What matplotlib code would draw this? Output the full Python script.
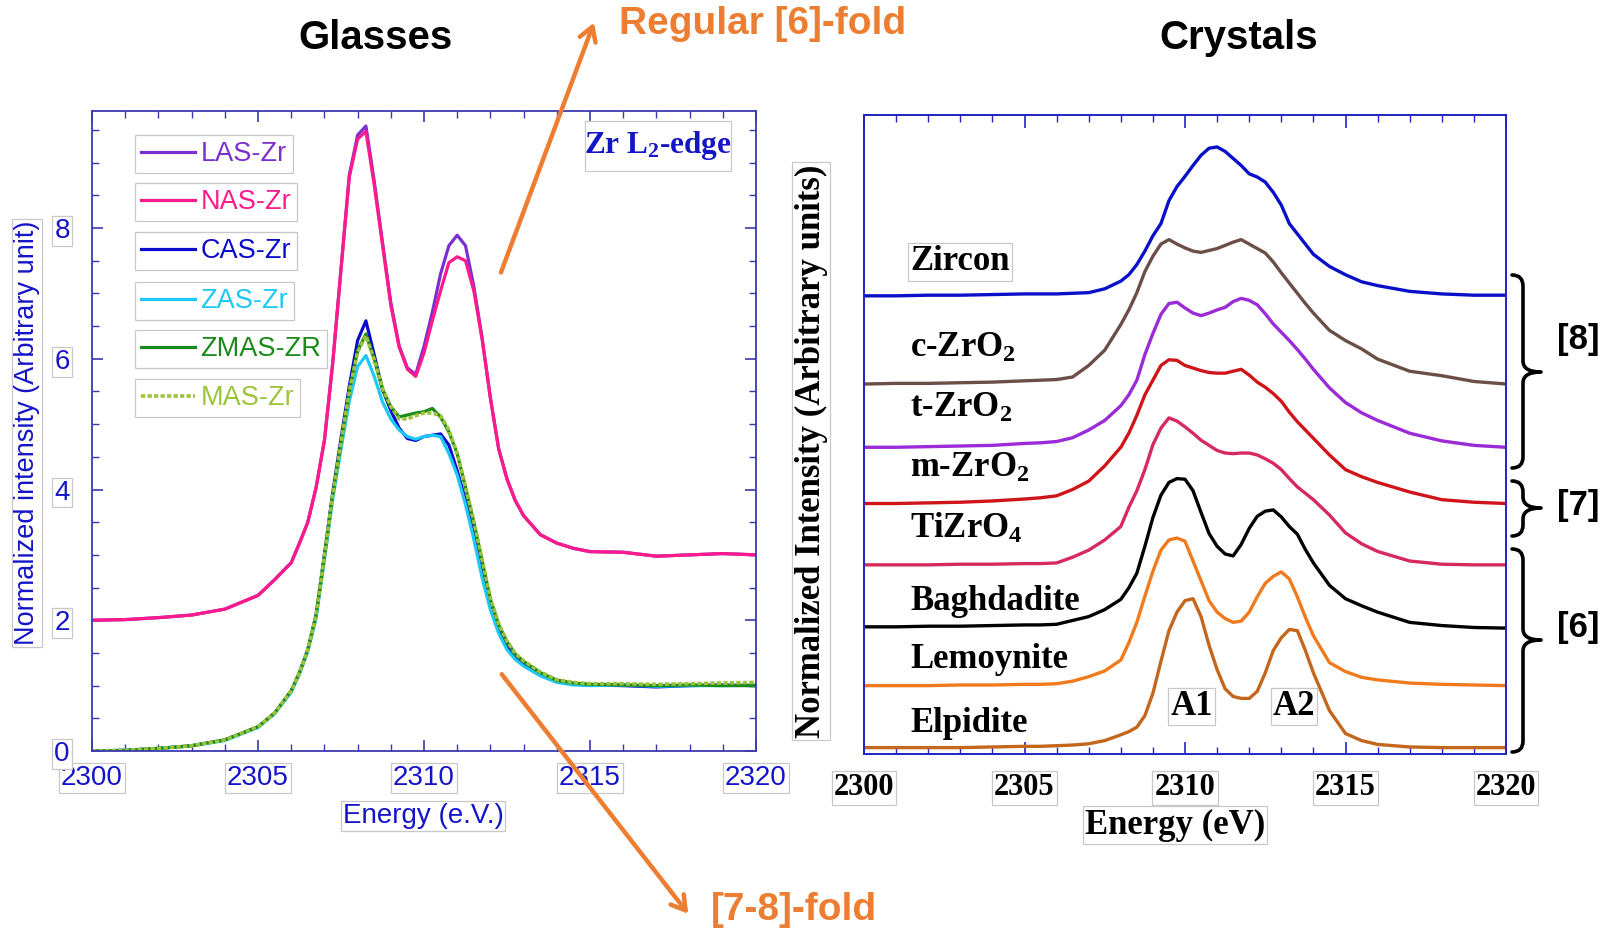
import matplotlib
matplotlib.use('Agg')
import matplotlib.pyplot as plt
from matplotlib.path import Path
from matplotlib.patches import PathPatch, FancyArrowPatch, Rectangle
from matplotlib.legend import Legend
from matplotlib.ticker import MultipleLocator

# ---------------- data: glasses (left panel) ----------------
energy_glass = [2300, 2301, 2302, 2303, 2304, 2305, 2305.5, 2306, 2306.25, 2306.5, 2306.75,
                2307, 2307.25, 2307.5, 2307.75, 2308, 2308.25, 2308.5, 2308.75, 2309, 2309.25,
                2309.5, 2309.75, 2310, 2310.25, 2310.5, 2310.75, 2311, 2311.25, 2311.5, 2311.75,
                2312, 2312.25, 2312.5, 2312.75, 2313, 2313.5, 2314, 2314.5, 2315, 2316, 2317,
                2318, 2319, 2320]
las_zr = [2.00, 2.01, 2.04, 2.08, 2.17, 2.38, 2.62, 2.88, 3.18, 3.50, 4.03, 4.75, 5.93, 7.37,
          8.81, 9.42, 9.56, 8.72, 7.78, 6.86, 6.20, 5.86, 5.76, 6.19, 6.71, 7.30, 7.73, 7.89,
          7.73, 7.11, 6.32, 5.40, 4.62, 4.16, 3.83, 3.60, 3.31, 3.18, 3.10, 3.05, 3.04, 2.98,
          3.00, 3.02, 3.00]
nas_zr = [2.00, 2.01, 2.04, 2.08, 2.17, 2.38, 2.62, 2.88, 3.18, 3.50, 4.03, 4.75, 5.93, 7.37,
          8.78, 9.36, 9.48, 8.66, 7.74, 6.82, 6.18, 5.84, 5.73, 6.09, 6.58, 7.04, 7.47, 7.56,
          7.50, 7.04, 6.30, 5.40, 4.62, 4.16, 3.83, 3.60, 3.31, 3.18, 3.10, 3.05, 3.04, 2.98,
          3.00, 3.02, 3.00]
cas_zr = [0.00, 0.01, 0.04, 0.08, 0.17, 0.37, 0.58, 0.92, 1.20, 1.55, 2.08, 3.00, 3.95, 4.78,
          5.58, 6.28, 6.58, 6.06, 5.53, 5.21, 4.94, 4.78, 4.75, 4.81, 4.83, 4.85, 4.68, 4.29,
          3.83, 3.31, 2.78, 2.26, 1.87, 1.60, 1.44, 1.34, 1.18, 1.08, 1.03, 1.01, 1.00, 0.98,
          1.00, 1.01, 1.00]
zas_zr = [0.00, 0.01, 0.04, 0.08, 0.16, 0.36, 0.57, 0.90, 1.18, 1.52, 2.03, 2.92, 3.85, 4.62,
          5.35, 5.88, 6.05, 5.73, 5.34, 5.08, 4.91, 4.81, 4.77, 4.81, 4.83, 4.81, 4.55, 4.22,
          3.77, 3.24, 2.65, 2.16, 1.80, 1.55, 1.40, 1.30, 1.15, 1.05, 1.01, 1.00, 1.01, 0.99,
          1.00, 1.00, 1.01]
zmas_zr = [0.00, 0.01, 0.04, 0.08, 0.17, 0.37, 0.58, 0.92, 1.20, 1.55, 2.08, 2.98, 3.92, 4.72,
           5.50, 6.12, 6.38, 5.99, 5.53, 5.27, 5.11, 5.14, 5.17, 5.19, 5.24, 5.11, 4.88, 4.55,
           4.03, 3.50, 2.91, 2.32, 1.93, 1.67, 1.48, 1.37, 1.20, 1.08, 1.04, 1.02, 1.01, 1.00,
           1.01, 1.00, 1.00]
mas_zr = [0.00, 0.01, 0.04, 0.08, 0.17, 0.37, 0.58, 0.92, 1.20, 1.55, 2.08, 2.98, 3.92, 4.72,
          5.50, 6.10, 6.35, 5.99, 5.55, 5.27, 5.08, 5.08, 5.13, 5.17, 5.17, 5.13, 4.91, 4.55,
          4.05, 3.52, 2.93, 2.34, 1.95, 1.68, 1.49, 1.38, 1.21, 1.09, 1.05, 1.03, 1.03, 1.02,
          1.03, 1.04, 1.05]
glass_names = ['LAS-Zr', 'NAS-Zr', 'CAS-Zr', 'ZAS-Zr', 'ZMAS-ZR', 'MAS-Zr']
glass_series = [las_zr, nas_zr, cas_zr, zas_zr, zmas_zr, mas_zr]
glass_colors = ['#7B2FD0', '#FF1A8C', '#0A0ACD', '#1EC8F5', '#1A8A1A', '#9CC43A']
glass_styles = ['-', '-', '-', '-', '-', (0, (1.2, 0.6))]

# ---------------- data: crystals (right panel) ----------------
energy_cryst = [2300, 2301, 2302, 2303, 2304, 2305, 2305.5, 2306, 2306.5, 2307, 2307.5, 2308,
                2308.25, 2308.5, 2308.75, 2309, 2309.25, 2309.5, 2309.75, 2310, 2310.25, 2310.5,
                2310.75, 2311, 2311.25, 2311.5, 2311.75, 2312, 2312.25, 2312.5, 2312.75, 2313,
                2313.25, 2313.5, 2313.75, 2314, 2314.5, 2315, 2315.5, 2316, 2317, 2318, 2319,
                2320]
zircon = [7.17, 7.17, 7.18, 7.18, 7.19, 7.20, 7.20, 7.20, 7.21, 7.22, 7.28, 7.40, 7.50, 7.66,
          7.87, 8.11, 8.30, 8.66, 8.88, 9.04, 9.21, 9.37, 9.48, 9.50, 9.43, 9.32, 9.21, 9.08,
          9.03, 8.95, 8.79, 8.59, 8.30, 8.14, 7.98, 7.82, 7.63, 7.50, 7.39, 7.33, 7.24, 7.20,
          7.18, 7.18]
c_zro2 = [5.79, 5.80, 5.80, 5.81, 5.82, 5.84, 5.85, 5.86, 5.90, 6.08, 6.32, 6.72, 6.95, 7.22,
          7.55, 7.79, 7.98, 8.05, 7.98, 7.92, 7.87, 7.85, 7.88, 7.91, 7.96, 8.01, 8.05, 7.98,
          7.91, 7.84, 7.70, 7.53, 7.37, 7.21, 7.05, 6.90, 6.63, 6.47, 6.34, 6.18, 5.99, 5.92,
          5.83, 5.79]
t_zro2 = [4.80, 4.80, 4.81, 4.82, 4.83, 4.86, 4.87, 4.89, 4.95, 5.07, 5.22, 5.45, 5.62, 5.85,
          6.25, 6.58, 6.88, 7.05, 7.07, 6.98, 6.90, 6.86, 6.90, 6.95, 6.99, 7.08, 7.13, 7.10,
          7.03, 6.89, 6.73, 6.60, 6.47, 6.33, 6.18, 6.02, 5.73, 5.50, 5.34, 5.22, 5.02, 4.90,
          4.83, 4.80]
m_zro2 = [3.92, 3.92, 3.93, 3.94, 3.96, 3.99, 4.01, 4.04, 4.14, 4.27, 4.51, 4.80, 5.02, 5.30,
          5.62, 5.85, 6.08, 6.17, 6.16, 6.08, 6.04, 6.00, 5.97, 5.96, 5.96, 5.99, 6.02, 5.93,
          5.82, 5.74, 5.64, 5.52, 5.35, 5.20, 5.07, 4.94, 4.68, 4.45, 4.34, 4.25, 4.10, 3.98,
          3.94, 3.92]
tizro4 = [2.96, 2.96, 2.96, 2.97, 2.97, 2.98, 2.98, 2.99, 3.08, 3.19, 3.35, 3.56, 3.86, 4.12,
          4.45, 4.84, 5.10, 5.26, 5.21, 5.12, 5.02, 4.91, 4.83, 4.75, 4.71, 4.70, 4.71, 4.71,
          4.68, 4.62, 4.55, 4.45, 4.31, 4.18, 4.08, 3.98, 3.74, 3.46, 3.29, 3.17, 3.02, 2.97,
          2.96, 2.96]
baghdadite = [1.99, 1.99, 2.00, 2.00, 2.01, 2.02, 2.02, 2.03, 2.09, 2.15, 2.26, 2.42, 2.60,
              2.83, 3.25, 3.70, 4.05, 4.25, 4.31, 4.30, 4.12, 3.78, 3.45, 3.25, 3.13, 3.10,
              3.28, 3.53, 3.72, 3.80, 3.82, 3.71, 3.56, 3.44, 3.20, 2.99, 2.64, 2.43, 2.32,
              2.22, 2.06, 2.01, 1.98, 1.97]
lemoynite = [1.07, 1.07, 1.07, 1.08, 1.08, 1.09, 1.09, 1.10, 1.14, 1.21, 1.30, 1.47, 1.74,
             2.06, 2.47, 2.86, 3.19, 3.35, 3.38, 3.33, 3.02, 2.71, 2.40, 2.22, 2.12, 2.06,
             2.08, 2.22, 2.46, 2.67, 2.78, 2.85, 2.74, 2.46, 2.14, 1.85, 1.43, 1.29, 1.20,
             1.16, 1.11, 1.09, 1.08, 1.07]
elpidite = [0.10, 0.10, 0.10, 0.10, 0.11, 0.12, 0.12, 0.13, 0.14, 0.16, 0.21, 0.30, 0.35,
            0.42, 0.60, 0.95, 1.45, 1.93, 2.22, 2.40, 2.43, 2.15, 1.70, 1.32, 1.02, 0.90,
            0.87, 0.87, 0.98, 1.27, 1.62, 1.82, 1.95, 1.93, 1.62, 1.27, 0.68, 0.32, 0.21,
            0.15, 0.11, 0.10, 0.10, 0.10]
cryst_series = [zircon, c_zro2, t_zro2, m_zro2, tizro4, baghdadite, lemoynite, elpidite]
cryst_colors = ['#0A10C8', '#6B4F47', '#9A2BD6', '#D0151A', '#D62A5E', '#000000',
                '#F07A1E', '#C4661C']
cryst_labels = ['Zircon', r'c-ZrO$\mathregular{_2}$', r't-ZrO$\mathregular{_2}$',
                r'm-ZrO$\mathregular{_2}$', r'TiZrO$\mathregular{_4}$', 'Baghdadite',
                'Lemoynite', 'Elpidite']
x_ticks = [2300, 2305, 2310, 2315, 2320]

# ---------------- figure ----------------
W, H = 1609, 936
fig = plt.figure(figsize=(W / 100, H / 100), dpi=100)


def fx(px):
    return px / W


def fy(py):
    return 1 - py / H


SANS = 'Liberation Sans'
SERIF = 'Liberation Serif'
BLUE_TXT = '#1414C8'
BOX = dict(facecolor='white', edgecolor='#C8C8C8', linewidth=0.9, pad=1.5)

# ---------------- left panel ----------------
spine_l = '#3A3AAE'
axL = fig.add_axes([fx(92), fy(751), fx(756) - fx(92), fy(111) - fy(751)])
lines = []
for s, c, ls in zip(glass_series, glass_colors, glass_styles):
    ln, = axL.plot(energy_glass, s, color=c, lw=2.3 if ls == '-' else 2.6, ls=ls)
    lines.append(ln)
axL.set_xlim(2300, 2320)
axL.set_ylim(0, 9.79)
axL.set_xticks(x_ticks)
axL.set_yticks([0, 2, 4, 6, 8])
axL.xaxis.set_minor_locator(MultipleLocator(1))
axL.yaxis.set_minor_locator(MultipleLocator(0.5))
for sp in axL.spines.values():
    sp.set_color(spine_l)
    sp.set_linewidth(1.3)
axL.tick_params(which='both', direction='in', color=spine_l, top=True, right=True,
                labelcolor=BLUE_TXT, labelsize=20)
axL.tick_params(which='major', length=8, width=1.2)
axL.tick_params(which='minor', length=5, width=1.0)
axL.tick_params(axis='x', pad=10)
axL.tick_params(axis='y', pad=16)
for lbl in axL.get_xticklabels() + axL.get_yticklabels():
    lbl.set_fontfamily(SANS)
    lbl.set_bbox(BOX)
axL.set_xlabel('Energy (e.V.)', fontsize=20, color=BLUE_TXT, family=SANS, bbox=BOX)
axL.xaxis.set_label_coords((423 - 92) / 664, -(816 - 751) / 640)
axL.xaxis.label.set_va('center')
axL.set_ylabel('Normalized intensity (Arbitrary unit)', fontsize=19.5, color=BLUE_TXT,
               family=SANS, bbox=BOX)
axL.yaxis.set_label_coords((27 - 92) / 664, (751 - 433) / 640)
axL.yaxis.label.set_va('center')

# separate boxed legend entries (Origin style)
leg_rows = [154, 202, 251, 301, 349, 398]
for ln, name, row in zip(lines, glass_names, leg_rows):
    leg = Legend(axL, [ln], [name], loc='center left', bbox_to_anchor=(fx(135), fy(row)),
                 bbox_transform=fig.transFigure, frameon=True, fancybox=False,
                 edgecolor='#C8C8C8', framealpha=1, labelcolor='linecolor',
                 prop={'family': SANS, 'size': 19.5}, handlelength=2.0, handletextpad=0.2,
                 borderpad=0.22, borderaxespad=0)
    leg.get_frame().set_linewidth(0.9)
    axL.add_artist(leg)

# "Zr L2-edge" annotation box
fig.add_artist(Rectangle((fx(585), fy(171)), fx(731) - fx(585), fy(121) - fy(171),
                         transform=fig.transFigure, facecolor='white', edgecolor='#C8C8C8',
                         lw=0.9))
fig.text(fx(658), fy(145), r'Zr L$\mathregular{_2}$-edge', ha='center', va='center',
         fontsize=22.5, fontweight='bold', family=SERIF, color='#1414C8')

# ---------------- right panel ----------------
spine_r = '#2323C4'
axR = fig.add_axes([fx(864), fy(754), fx(1506) - fx(864), fy(115) - fy(754)])
for s, c in zip(cryst_series, cryst_colors):
    axR.plot(energy_cryst, s, color=c, lw=2.4)
axR.set_xlim(2300, 2320)
axR.set_ylim(0, 10)
axR.set_yticks([])
axR.set_xticks(x_ticks)
axR.xaxis.set_minor_locator(MultipleLocator(1))
for sp in axR.spines.values():
    sp.set_color(spine_r)
    sp.set_linewidth(1.4)
axR.tick_params(axis='x', which='both', direction='in', color=spine_r, top=True,
                labelsize=22, pad=14)
axR.tick_params(axis='x', which='major', length=9, width=1.2)
axR.tick_params(axis='x', which='minor', length=5, width=1.0)
for lbl in axR.get_xticklabels():
    lbl.set_fontfamily(SERIF)
    lbl.set_fontweight('bold')
    lbl.set_bbox(BOX)
axR.set_xlabel('Energy (eV)', fontsize=25, fontweight='bold', family=SERIF, bbox=BOX)
axR.xaxis.set_label_coords((1175 - 864) / 642, -(825 - 754) / 639)
axR.xaxis.label.set_va('center')
axR.set_ylabel('Normalized Intensity (Arbitrary units)', fontsize=25, fontweight='bold',
               family=SERIF, bbox=BOX)
axR.yaxis.set_label_coords((811 - 864) / 642, (754 - 451) / 639)
axR.yaxis.label.set_va('center')

label_y = [262, 348, 408, 468, 529, 601, 660, 723]
for i, (txt, yy) in enumerate(zip(cryst_labels, label_y)):
    axR.text((910 - 864) / 642, (754 - yy) / 639, txt, transform=axR.transAxes,
             ha='left', va='center', fontsize=25, fontweight='bold', family=SERIF,
             bbox=BOX if i == 0 else None)
for name, ex in [('A1', 2310.2), ('A2', 2313.4)]:
    axR.text(ex, 0.74, name, ha='center', va='center', fontsize=25, fontweight='bold',
             family=SERIF, bbox=BOX)

# curly braces with coordination labels
def brace(ytop, ybot, ymid, x0=1512, xm=1523, xt=1541, r=11):
    pts = [(x0, ytop), (xm, ytop), (xm, ytop + r), (xm, ymid - r), (xm, ymid), (xt, ymid),
           (xm, ymid), (xm, ymid + r), (xm, ybot - r), (xm, ybot), (x0, ybot)]
    codes = [Path.MOVETO, Path.CURVE3, Path.CURVE3, Path.LINETO, Path.CURVE3, Path.CURVE3,
             Path.CURVE3, Path.CURVE3, Path.LINETO, Path.CURVE3, Path.CURVE3]
    verts = [(fx(a), fy(b)) for a, b in pts]
    fig.add_artist(PathPatch(Path(verts, codes), transform=fig.transFigure, fill=False,
                             lw=2.6, color='black', capstyle='round', joinstyle='round'))


brace(275, 468, 372)
brace(481, 536, 508)
brace(549, 752, 640)
for t, yy in [('[8]', 340), ('[7]', 505), ('[6]', 627)]:
    fig.text(fx(1578), fy(yy), t, ha='center', va='center', fontsize=25, fontweight='bold',
             family=SANS)

# ---------------- titles & annotations ----------------
fig.text(fx(375), fy(38), 'Glasses', ha='center', va='center', fontsize=29,
         fontweight='bold', family=SANS)
fig.text(fx(1239), fy(38), 'Crystals', ha='center', va='center', fontsize=29,
         fontweight='bold', family=SANS)
ORANGE = '#ED7D31'
fig.text(fx(763), fy(24), 'Regular [6]-fold', ha='center', va='center', fontsize=28,
         fontweight='bold', family=SANS, color=ORANGE)
fig.text(fx(794), fy(910), '[7-8]-fold', ha='center', va='center', fontsize=28,
         fontweight='bold', family=SANS, color=ORANGE)
for (xa, ya), (xb, yb) in [((500, 275), (595, 20)), ((500, 672), (690, 916))]:
    fig.add_artist(FancyArrowPatch((fx(xa), fy(ya)), (fx(xb), fy(yb)),
                                   transform=fig.transFigure,
                                   arrowstyle='->,head_length=10,head_width=6',
                                   mutation_scale=1, lw=3.2, color=ORANGE))

fig.savefig('out.png', dpi=100)
